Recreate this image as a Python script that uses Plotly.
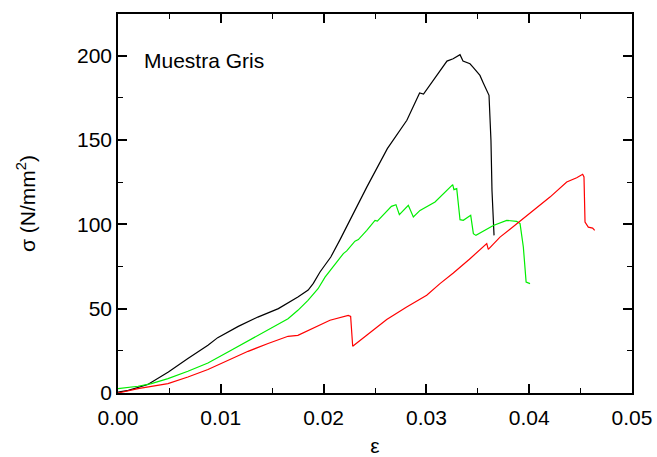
import plotly.graph_objects as go

# Black curve
black_x = [0, 0.001, 0.0029, 0.0049, 0.0068, 0.00875, 0.0097, 0.0117, 0.0136, 0.0156, 0.0175, 0.0185,
           0.019, 0.01965, 0.0207, 0.0216, 0.0242, 0.0262, 0.0281, 0.02918, 0.02934, 0.02972, 0.03064, 0.032,
           0.0326, 0.03327, 0.03356, 0.03395, 0.03424, 0.03453, 0.03521, 0.0355, 0.0359, 0.03609,
           0.03628, 0.03638, 0.03658]
black_y = [0.5, 1.6, 5, 12.4, 20.4, 28.3, 32.8, 39.5, 45, 50, 56.9, 61,
           65, 71.7, 80.6, 90.9, 122, 144.8, 161.6, 176, 177.8, 177.2, 185.2, 196.7,
           198.1, 200.5, 196.7, 195.7, 195.1, 193.1, 188.2, 184.2, 179.3, 176.4,
           149.7, 120, 93.4]

# Green curve
green_x = [0, 0.00195, 0.00324, 0.00486, 0.0068, 0.00875, 0.0107, 0.01265, 0.0146, 0.01654, 0.0175,
           0.01848, 0.01946, 0.02014, 0.02192, 0.02225, 0.02305, 0.02338, 0.0242, 0.025, 0.02523,
           0.0263, 0.0266, 0.02704, 0.02737, 0.02824, 0.02873, 0.02938, 0.03051, 0.03084, 0.03256,
           0.03268, 0.03295, 0.03327, 0.03359, 0.03431, 0.03457, 0.03482, 0.03651, 0.03781, 0.03878,
           0.03911, 0.03943, 0.0397, 0.04008]
green_y = [2.6, 4, 5.6, 8.5, 12.9, 17.8, 24.3, 30.8, 37.1, 44, 49,
           54.9, 61.8, 68.7, 82.6, 84.2, 90, 90.9, 96.4, 102.3, 101.9,
           109.2, 110.6, 111.6, 105.7, 111.2, 104.3, 108.2, 112.2, 113.2, 123.5,
           120.5, 121.1, 102.7, 102.3, 105.3, 94.4, 93.4, 99.3, 102.3, 101.7,
           100.4, 86.5, 65.8, 64.8]

# Red curve
red_x = [0, 0.00195, 0.00486, 0.0068, 0.00875, 0.0107, 0.01265, 0.0146, 0.01654, 0.0175, 0.01946,
         0.02062, 0.0224, 0.02263, 0.02283, 0.02484, 0.02614, 0.02808, 0.03003, 0.03132, 0.03262,
         0.03424, 0.03587, 0.03602, 0.03716, 0.03813, 0.04008, 0.04202, 0.04365, 0.04429, 0.04462,
         0.0452, 0.04533, 0.04543, 0.04575, 0.04617, 0.04637]
red_y = [0, 2.6, 5.6, 9.5, 13.9, 19.4, 24.7, 29.3, 33.6, 34.2, 39.5,
         43.1, 46, 45.4, 27.7, 37.6, 43.5, 51, 57.9, 64.8, 71.1,
         79.6, 88.5, 85.1, 92.4, 97, 106.3, 116.1, 125, 126.6, 127.6,
         129.6, 128, 101.3, 98.3, 97.7, 96.4]

x_ticks = [0, 0.01, 0.02, 0.03, 0.04, 0.05]
x_labels = ["0.00", "0.01", "0.02", "0.03", "0.04", "0.05"]
y_ticks = [0, 50, 100, 150, 200]

FONT = "Liberation Sans, Arial, sans-serif"

fig = go.Figure()
for xs, ys, col in [(black_x, black_y, "#000000"), (green_x, green_y, "#00ee00"), (red_x, red_y, "#ff0000")]:
    fig.add_trace(go.Scatter(x=xs, y=ys, mode="lines", line=dict(color=col, width=1.2),
                             showlegend=False, hoverinfo="skip"))

axis_common = dict(
    showgrid=False, zeroline=False, showline=True, linecolor="black", linewidth=1.6,
    mirror="allticks", ticks="inside", ticklen=9, tickwidth=1.6, tickcolor="black",
    tickfont=dict(family=FONT, size=21, color="black"), automargin=False,
)

fig.update_xaxes(range=[0, 0.05], tickvals=x_ticks, ticktext=x_labels, ticklabelstandoff=5,
                 minor=dict(ticks="inside", ticklen=5, tickwidth=1.4, tickcolor="black", dtick=0.005),
                 title=dict(text="ε", font=dict(family=FONT, size=21, color="black"), standoff=10),
                 **axis_common)
fig.update_yaxes(range=[0, 224.6], tickvals=y_ticks, ticklabelstandoff=0,
                 minor=dict(ticks="inside", ticklen=5, tickwidth=1.4, tickcolor="black", dtick=25),
                 title=dict(text="σ (N/mm<sup>2</sup>)", font=dict(family=FONT, size=21, color="black"), standoff=36),
                 **axis_common)

fig.add_annotation(x=0.00233, y=197, xref="x", yref="y", text="Muestra Gris", showarrow=False,
                   xanchor="left", yanchor="middle", font=dict(family=FONT, size=21, color="black"))

fig.update_layout(width=657, height=457, margin=dict(l=118, r=25, t=14, b=64),
                  paper_bgcolor="white", plot_bgcolor="white")

fig.write_html("out.html")
